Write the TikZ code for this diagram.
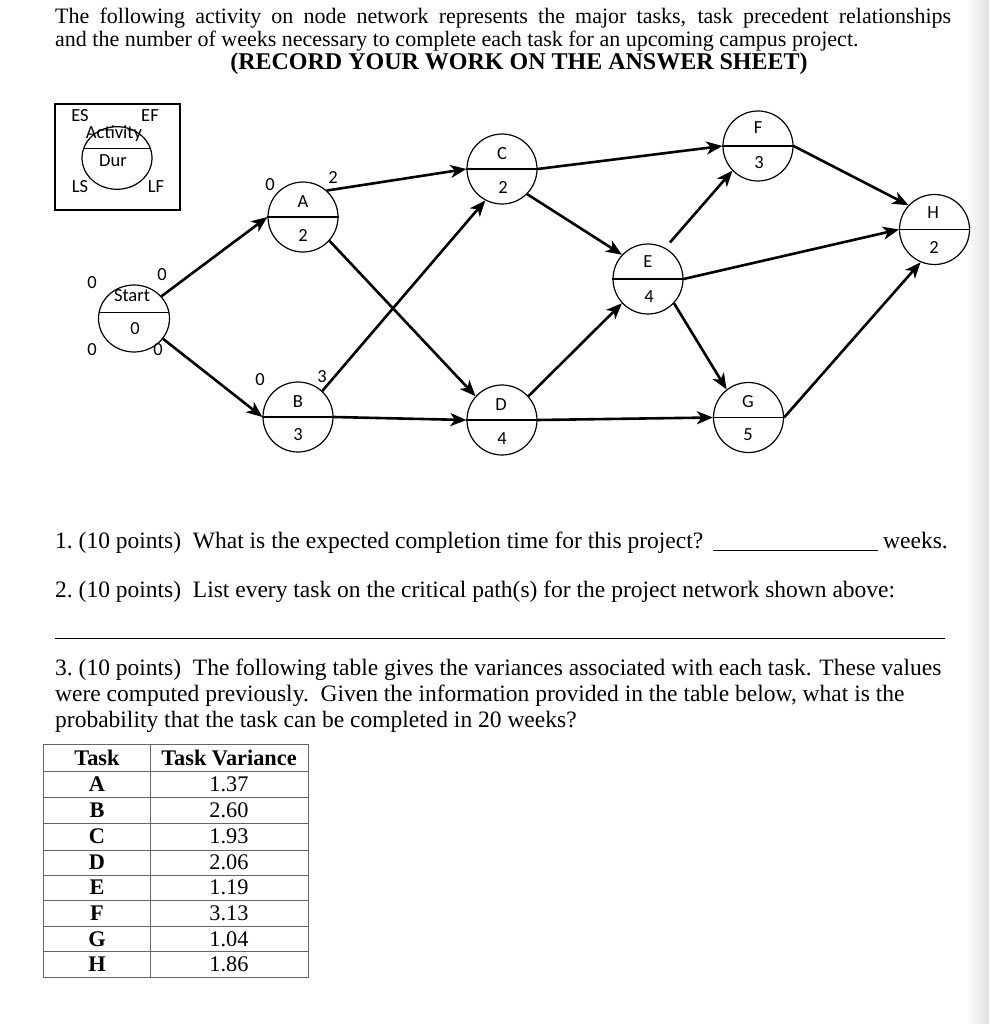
\documentclass[tikz,border=0pt]{standalone}
\usepackage{fontspec}
\setmainfont{Liberation Serif}
\newfontfamily\calib{Carlito}
\usetikzlibrary{arrows.meta,shapes.geometric}
\begin{document}
\begin{tikzpicture}[x=1pt,y=-1pt,
  tasknode/.style={circle,draw,line width=1.2pt,minimum size=70pt,inner sep=0pt},
  ellnode/.style={ellipse,draw,line width=1.2pt,inner sep=0pt},
  chord/.style={line width=1.2pt},
  lbl/.style={inner sep=0pt,font=\calib\fontsize{18.5}{19}\selectfont},
  txt/.style={inner sep=0pt,anchor=base west,font=\fontsize{23.5}{26}\selectfont},
  htxt/.style={inner sep=0pt,anchor=base west,font=\fontsize{22}{23}\selectfont},
  conn/.style={line width=2.6pt,-{Stealth[length=16pt,width=13pt,inset=4.5pt]}},
  cell/.style={inner sep=0pt,font=\fontsize{22.3}{23}\selectfont},
  tline/.style={line width=1pt,black!60}]
\useasboundingbox (0,0) rectangle (989,1024);
\fill[left color=white,right color=black!12] (966,0) rectangle (989,1024);

% header text
\node[htxt] (t1) at (55,24) {\makebox[896pt][s]{The following activity on node network represents the major tasks, task precedent relationships}};
\node[htxt] (t2) at (55,47) {and the number of weeks necessary to complete each task for an upcoming campus project.};
\node[htxt,anchor=base,font=\fontsize{24}{24}\selectfont] (t3) at (519,70) {\bfseries (RECORD YOUR WORK ON THE ANSWER SHEET)};

% legend
\node[draw,line width=1.2pt,minimum width=125pt,minimum height=106pt,inner sep=0pt] (legbox) at (117.5,157) {};
\node[ellnode,minimum width=70pt,minimum height=62.6pt] (leg) at (117,158) {};
\draw[chord] (83.7,148.3) -- (150.3,148.3);
\node[lbl] (lES) at (80,116) {ES};
\node[lbl] (lEF) at (150,116) {EF};
\node[lbl] (lAct) at (114,134) {Activity};
\node[lbl] (lDur) at (113,161) {Dur};
\node[lbl] (lLS) at (80,187) {LS};
\node[lbl] (lLF) at (156,187) {LF};

% start node
\node[ellnode,minimum width=71pt,minimum height=67pt] (Start) at (134,318.5) {};
\draw[chord] (99.1,312.3) -- (168.9,312.3);
\node[lbl] (sname) at (132,296) {Start};
\node[lbl] (sdur) at (135,329) {0};
\node[lbl] (sES) at (92,283) {0};
\node[lbl] (sEF) at (162,275) {0};
\node[lbl] (sLS) at (92,350) {0};
\node[lbl] (sLF) at (158,350) {0};

% task nodes
\node[tasknode] (A) at (303,217) {};
\node[tasknode] (B) at (298,417) {};
\node[tasknode] (C) at (502,169) {};
\node[tasknode] (D) at (502,420) {};
\node[tasknode] (E) at (648,279) {};
\node[tasknode] (F) at (758,146) {};
\node[tasknode] (G) at (748.5,417.5) {};
\node[tasknode] (H) at (934.5,229.5) {};
\foreach \n in {A,B,C,D,E,F,G,H}{\draw[chord] (\n.west) -- (\n.east);}

\node[lbl] (an) at (303,202) {A};  \node[lbl] (ad) at (303,235) {2};
\node[lbl] (aES) at (270,185) {0}; \node[lbl] (aEF) at (333,177) {2};
\node[lbl] (bn) at (298,402) {B};  \node[lbl] (bd) at (298,435) {3};
\node[lbl] (bES) at (260,380) {0}; \node[lbl] (bEF) at (322,377) {3};
\node[lbl] (cn) at (502,154) {C};  \node[lbl] (cd) at (503,187) {2};
\node[lbl] (dn) at (501,405) {D};  \node[lbl] (dd) at (502,439) {4};
\node[lbl] (en) at (648,262) {E};  \node[lbl] (ed) at (649,297) {4};
\node[lbl] (fn) at (758,128) {F};  \node[lbl] (fd) at (759,163) {3};
\node[lbl] (gn) at (748,402) {G};  \node[lbl] (gd) at (748,435) {5};
\node[lbl] (hn) at (933,213) {H};  \node[lbl] (hd) at (934,247) {2};

% connectors
\draw[conn] (Start.39) -- (A.west);
\draw[conn] (Start.-35) -- (B.west);
\draw[conn] (A.48) -- (C.west);
\draw[conn] (A.-42) -- (D.138);
\draw[conn] (B.47) -- (C.-118);
\draw[conn] (B.east) -- (D.west);
\draw[conn] (C.east) -- (F.west);
\draw[conn] (C.-45) -- (E.137);
\draw[conn] (D.42) -- (E.-137);
\draw[conn] (D.east) -- (G.west);
\draw[conn,shorten <=7pt] (E.61) -- (F.-136);
\draw[conn] (E.-43) -- (G.128);
\draw[conn] (E.east) -- (H.west);
\draw[conn] (F.east) -- (H.137);
\draw[conn] (G.east) -- (H.-113);

% questions
\node[txt] (q1) at (55,548) {1.\ (10 points)\ \ What is the expected completion time for this project?};
\draw[line width=0.9pt] (713,550) -- (878,550);
\node[txt,anchor=base east] (q1b) at (948,548) {weeks.};
\node[txt] (q2) at (55,597) {2.\ (10 points)\ \ List every task on the critical path(s) for the project network shown above:};
\draw[line width=1pt] (55,638) -- (945,638);
\node[txt] (q3a) at (55,675) {3.\ (10 points)\ \ The following table gives the variances associated with each task. These values};
\node[txt] (q3b) at (55,701) {were computed previously.\ \ Given the information provided in the table below, what is the};
\node[txt] (q3c) at (55,727) {probability that the task can be completed in 20 weeks?};

% table
\draw[tline] (43.5,744) rectangle (308,977.3);
\draw[tline] (150,744) -- (150,977.3);
\foreach \yy in {771.7,797.3,823.3,850,875,900,926.7,951.7}{\draw[tline] (43.5,\yy) -- (308,\yy);}
\node[cell] (h1) at (97,758) {\bfseries Task};
\node[cell] (h2) at (229,758) {\bfseries Task Variance};
\foreach \l/\v/\yy [count=\i] in {A/1.37/784.5,B/2.60/810.3,C/1.93/836.7,D/2.06/862.5,E/1.19/887.5,F/3.13/913.3,G/1.04/939.2,H/1.86/964.5}{
  \node[cell] (k\i) at (97,\yy) {\bfseries\l};
  \node[cell] (v\i) at (229,\yy) {\v};
}
\end{tikzpicture}
\end{document}
